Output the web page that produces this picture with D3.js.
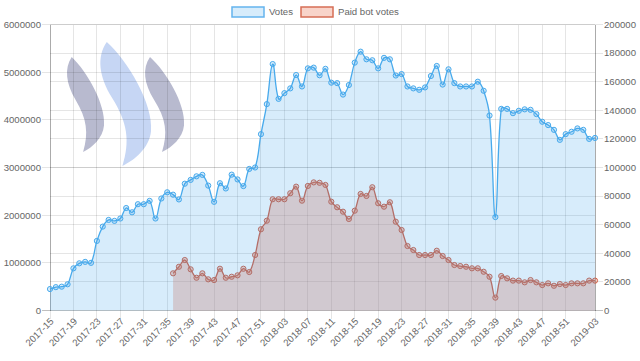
<!DOCTYPE html>
<html><head><meta charset="utf-8">
<script src="https://cdn.jsdelivr.net/npm/d3@7"></script>
<style>html,body{margin:0;padding:0;background:#fff}svg{display:block}</style>
</head><body>
<svg id="c" width="640" height="361"></svg>
<script>
const weeks = [
"2017-15","2017-16","2017-17","2017-18","2017-19","2017-20","2017-21","2017-22","2017-23","2017-24","2017-25","2017-26","2017-27","2017-28","2017-29","2017-30","2017-31","2017-32","2017-33","2017-34","2017-35","2017-36","2017-37","2017-38","2017-39","2017-40","2017-41","2017-42","2017-43","2017-44","2017-45","2017-46","2017-47","2017-48","2017-49","2017-50","2017-51","2017-52",
"2018-01","2018-02","2018-03","2018-04","2018-05","2018-06","2018-07","2018-08","2018-09","2018-10","2018-11","2018-12","2018-13","2018-14","2018-15","2018-16","2018-17","2018-18","2018-19","2018-20","2018-21","2018-22","2018-23","2018-24","2018-25","2018-26","2018-27","2018-28","2018-29","2018-30","2018-31","2018-32","2018-33","2018-34","2018-35","2018-36","2018-37","2018-38","2018-39","2018-40","2018-41","2018-42","2018-43","2018-44","2018-45","2018-46","2018-47","2018-48","2018-49","2018-50","2018-51","2018-52","2018-53",
"2019-01","2019-02","2019-03"];

const votes = [450000,490000,500000,550000,885000,990000,1020000,1000000,1460000,1760000,
1900000,1880000,1930000,2150000,2060000,2230000,2230000,2300000,1930000,2350000,
2480000,2430000,2330000,2660000,2740000,2815000,2845000,2620000,2280000,2670000,
2560000,2850000,2750000,2610000,2970000,3000000,3700000,4330000,5170000,4440000,
4560000,4660000,4940000,4700000,5080000,5095000,4935000,5070000,4780000,4770000,
4530000,4730000,5200000,5430000,5270000,5250000,5080000,5300000,5270000,4930000,
4960000,4700000,4660000,4630000,4680000,4920000,5130000,4740000,5060000,4770000,
4700000,4700000,4700000,4800000,4610000,4090000,1960000,4230000,4230000,4140000,
4190000,4220000,4210000,4120000,3960000,3890000,3790000,3580000,3700000,3750000,
3820000,3790000,3600000,3620000];

const paidBotVotes = [null,null,null,null,null,null,null,null,null,null,
null,null,null,null,null,null,null,null,null,null,
null,26000,30600,35300,28800,22900,26000,21800,21300,29200,
22900,23600,24600,29200,26900,38800,56800,62800,77800,77800,
77800,82000,86600,76800,87100,89600,89300,87800,76100,72200,
69100,64000,69800,81500,80100,86200,75000,72600,75700,62100,
56300,45100,42300,38800,38800,38800,41800,38100,35300,31800,
31100,30600,29500,29500,27100,23600,9000,24100,22500,20900,
20900,19700,21300,19700,17800,19000,17300,18500,17800,19000,
19000,19000,20900,20900];

const leftTicks = [0,1000000,2000000,3000000,4000000,5000000,6000000];
const rightTicks = [0,20000,40000,60000,80000,100000,120000,140000,160000,180000,200000];
const seriesNames = ["Votes","Paid bot votes"];

const L = 50, R = 595, T = 24.5, B = 310.5;
const FONT = "Helvetica, Arial, 'Liberation Sans', sans-serif";
const FS = 9.6;
const svg = d3.select("#c");
svg.append("rect").attr("width",640).attr("height",361).attr("fill","#fff");

const x = d3.scalePoint().domain(weeks).range([L, R]).padding(0);
const yL = d3.scaleLinear().domain([0, 6000000]).range([B, T]);
const yR = d3.scaleLinear().domain([0, 200000]).range([B, T]);

// Steem logo watermark (decoration)
const swoosh = "M0.15,0 C0.55,0.15 1.05,0.5 1.0,0.72 C0.97,0.85 0.7,0.95 0.45,1.0 C0.6,0.8 0.55,0.65 0.25,0.45 C0.0,0.28 -0.05,0.12 0.15,0 Z";
const logo = svg.append("g");
[[66,57,38,95,"#b8bacf"],[99,42,52,124,"#c6d6f4"],[144,57,40,95,"#b8bacf"]].forEach(([lx,ly,w,h,c])=>{
  logo.append("path").attr("d",swoosh).attr("fill",c)
    .attr("transform",`translate(${lx},${ly}) scale(${w},${h})`);
});

// gridlines
const grid = svg.append("g").attr("stroke","rgba(0,0,0,0.1)").attr("stroke-width",1).attr("shape-rendering","crispEdges");
leftTicks.forEach(v=>{ if(v!==0) grid.append("line").attr("x1",L-8).attr("x2",R).attr("y1",yL(v)).attr("y2",yL(v)); });
rightTicks.forEach(v=>{ if(v!==0) grid.append("line").attr("x1",L).attr("x2",R+8).attr("y1",yR(v)).attr("y2",yR(v)); });
const shown = weeks.map((w,i)=>i).filter(i => (i%4===0 && i+4 < weeks.length) || i===weeks.length-1);
shown.forEach(i=>{ grid.append("line").attr("x1",x(weeks[i])).attr("x2",x(weeks[i])).attr("y1",T).attr("y2",B+8); });
const bord = svg.append("g").attr("stroke","rgba(0,0,0,0.25)").attr("stroke-width",1).attr("shape-rendering","crispEdges");
bord.append("line").attr("x1",L-8).attr("x2",R+8).attr("y1",B).attr("y2",B);
bord.append("line").attr("x1",L).attr("x2",L).attr("y1",T).attr("y2",B);
bord.append("line").attr("x1",R).attr("x2",R).attr("y1",T).attr("y2",B);

// Chart.js style bezier spline
function splinePath(pts, t){
  const cps = pts.map((p,i)=>{
    const prev = pts[i-1]||p, next = pts[i+1]||p;
    const d01 = Math.hypot(p.x-prev.x, p.y-prev.y), d12 = Math.hypot(next.x-p.x, next.y-p.y);
    let s01 = d01/(d01+d12), s12 = d12/(d01+d12);
    if (!isFinite(s01)) s01 = 0; if (!isFinite(s12)) s12 = 0;
    const fa = t*s01, fb = t*s12;
    const cap = (vx,vy)=>[Math.max(L,Math.min(R,vx)), Math.max(T,Math.min(B,vy))];
    return {p: cap(p.x - fa*(next.x-prev.x), p.y - fa*(next.y-prev.y)),
            n: cap(p.x + fb*(next.x-prev.x), p.y + fb*(next.y-prev.y))};
  });
  const path = d3.path();
  path.moveTo(pts[0].x, pts[0].y);
  for (let i=1;i<pts.length;i++){
    path.bezierCurveTo(cps[i-1].n[0],cps[i-1].n[1],cps[i].p[0],cps[i].p[1],pts[i].x,pts[i].y);
  }
  return path.toString();
}

function drawSeries(vals, yScale, fill, stroke){
  const pts = [];
  vals.forEach((v,i)=>{ if(v!==null) pts.push({x:x(weeks[i]), y:yScale(v)}); });
  const line = splinePath(pts, 0.4);
  const g = svg.append("g");
  g.append("path").attr("d", line + `L${pts[pts.length-1].x},${yScale(0)}L${pts[0].x},${yScale(0)}Z`).attr("fill",fill);
  g.append("path").attr("d", line).attr("fill","none").attr("stroke",stroke).attr("stroke-width",1.3);
  g.selectAll("circle").data(pts).join("circle").attr("cx",d=>d.x).attr("cy",d=>d.y).attr("r",2.6)
    .attr("fill",fill).attr("stroke",stroke).attr("stroke-width",1);
}
drawSeries(paidBotVotes, yR, "rgba(231,111,81,0.3)", "rgb(210,98,72)");
drawSeries(votes, yL, "rgba(54,162,235,0.2)", "rgb(72,170,236)");

const txt = svg.append("g").attr("font-family",FONT).attr("font-size",FS).attr("fill","#666");
leftTicks.forEach(v=>{ txt.append("text").attr("x",L-9).attr("y",yL(v)).attr("dy","0.35em").attr("text-anchor","end").text(v); });
rightTicks.forEach(v=>{ txt.append("text").attr("x",R+9).attr("y",yR(v)).attr("dy","0.35em").attr("text-anchor","start").text(v); });
shown.forEach(i=>{
  txt.append("text").attr("transform",`translate(${x(weeks[i])+2},${B+9}) rotate(-45)`)
    .attr("dy","0.35em").attr("text-anchor","end").text(weeks[i]);
});

const lg = svg.append("g").attr("font-family",FONT).attr("font-size",FS).attr("fill","#666");
const legendItems = [
  {name: seriesNames[0], bx: 232, fill:"rgba(54,162,235,0.2)", stroke:"rgb(100,180,238)"},
  {name: seriesNames[1], bx: 301, fill:"rgba(231,111,81,0.3)", stroke:"rgb(214,110,85)"}
];
legendItems.forEach(it=>{
  lg.append("rect").attr("x",it.bx).attr("y",7).attr("width",32).attr("height",10)
    .attr("fill",it.fill).attr("stroke",it.stroke).attr("stroke-width",1.5);
  lg.append("text").attr("x",it.bx+37).attr("y",12).attr("dy","0.35em").text(it.name);
});
</script>
</body></html>
